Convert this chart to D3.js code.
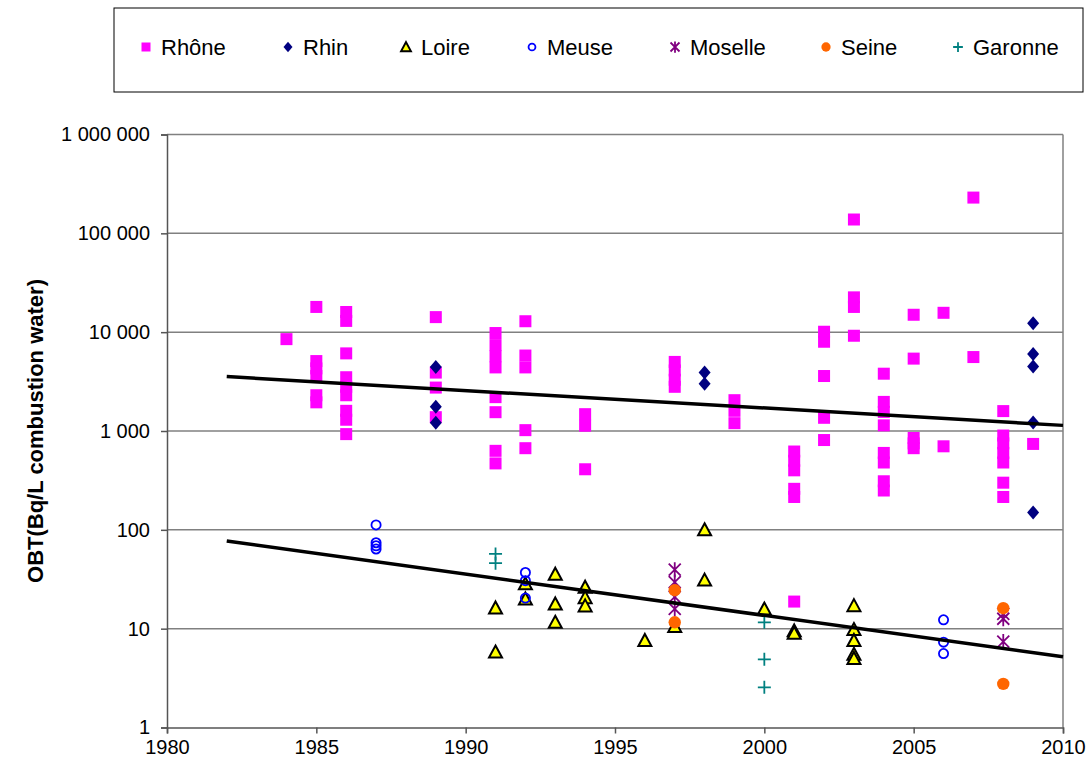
<!DOCTYPE html>
<html>
<head>
<meta charset="utf-8">
<script src="https://cdn.jsdelivr.net/npm/d3@7"></script>
<style>
  body { margin: 0; background: #fff; }
  svg { display: block; }
</style>
</head>
<body>
<div id="chart"></div>
<script>
// Data: [year, OBT in Bq/L combustion water]
const rhone = [
  [1984, 8500],
  [1985, 18000], [1985, 5100], [1985, 4300], [1985, 3600], [1985, 2300], [1985, 1950],
  [1986, 16000], [1986, 13000], [1986, 6100], [1986, 3500], [1986, 2800], [1986, 2300], [1986, 1600], [1986, 1300], [1986, 930],
  [1989, 14200], [1989, 3900], [1989, 2750], [1989, 1380],
  [1991, 9800], [1991, 7400], [1991, 5700], [1991, 4400], [1991, 2200], [1991, 1550], [1991, 630], [1991, 470],
  [1992, 12900], [1992, 5800], [1992, 4400], [1992, 1020], [1992, 670],
  [1994, 1480], [1994, 1130], [1994, 410],
  [1997, 5000], [1997, 4100], [1997, 3300], [1997, 2800],
  [1999, 2050], [1999, 1600], [1999, 1200],
  [2001, 620], [2001, 500], [2001, 400], [2001, 260], [2001, 215], [2001, 18.8],
  [2002, 10100], [2002, 8000], [2002, 3600], [2002, 1360], [2002, 810],
  [2003, 138000], [2003, 22500], [2003, 18000], [2003, 9200],
  [2004, 3800], [2004, 1970], [2004, 1560], [2004, 1140], [2004, 600], [2004, 480], [2004, 310], [2004, 250],
  [2005, 15000], [2005, 5400], [2005, 850], [2005, 750], [2005, 670],
  [2006, 15700], [2006, 700],
  [2007, 230000], [2007, 5600],
  [2008, 1590], [2008, 900], [2008, 750], [2008, 600], [2008, 480], [2008, 300], [2008, 215],
  [2009, 740]
];
const rhin = [
  [1989, 4450], [1989, 1760], [1989, 1210],
  [1998, 3900], [1998, 3000],
  [2009, 12300], [2009, 6000], [2009, 4500], [2009, 1220], [2009, 150]
];
const loire = [
  [1991, 16.2], [1991, 5.8],
  [1992, 28.4], [1992, 20],
  [1993, 35.6], [1993, 17.8], [1993, 11.6],
  [1994, 26.3], [1994, 20.6], [1994, 17],
  [1996, 7.6],
  [1997, 10.5],
  [1998, 100], [1998, 31],
  [2000, 15.8],
  [2001, 9.5], [2001, 9.0],
  [2003, 17.1], [2003, 9.8], [2003, 7.6], [2003, 5.5], [2003, 5.0]
];
const meuse = [
  [1987, 112], [1987, 74], [1987, 69], [1987, 64],
  [1992, 37], [1992, 30.6], [1992, 20.4],
  [2006, 12.3], [2006, 7.3], [2006, 5.6]
];
const moselle = [
  [1997, 39.5], [1997, 29.6], [1997, 21], [1997, 15.9],
  [2008, 14.1], [2008, 12.6], [2008, 7.4]
];
const seine = [
  [1997, 24.5], [1997, 11.6],
  [2008, 16.1], [2008, 2.76]
];
const garonne = [
  [1991, 57], [1991, 46],
  [2000, 11.6], [2000, 4.9], [2000, 2.55]
];
// exponential trend lines (straight on the log axis), endpoints
const trendRhone = [[1982, 3550], [2010, 1140]];
const trendOthers = [[1982, 77], [2010, 5.2]];

const xTicks = [1980, 1985, 1990, 1995, 2000, 2005, 2010];
const yTicks = [1, 10, 100, 1000, 10000, 100000, 1000000];
const yTickLabels = ['1', '10', '100', '1 000', '10 000', '100 000', '1 000 000'];

const seriesNames = ['Rhône', 'Rhin', 'Loire', 'Meuse', 'Moselle', 'Seine', 'Garonne'];

// Marker painters
const markers = {
  'Rhône': { data: rhone, draw: (g, s) => g.append('rect').attr('x', -6 * s).attr('y', -6 * s).attr('width', 12 * s).attr('height', 12 * s).attr('fill', '#FF00FF') },
  'Rhin': { data: rhin, draw: (g, s) => g.append('path').attr('d', `M0,${-7 * s}L${6 * s},0L0,${7 * s}L${-6 * s},0Z`).attr('fill', '#000080') },
  'Loire': { data: loire, draw: (g, s) => g.append('path').attr('d', `M0,${-6.5 * s}L${6.5 * s},${5.5 * s}L${-6.5 * s},${5.5 * s}Z`).attr('fill', '#FFFF00').attr('stroke', '#000').attr('stroke-width', 2).attr('stroke-linejoin', 'miter') },
  'Meuse': { data: meuse, draw: (g, s) => g.append('circle').attr('r', 4.6 * s).attr('fill', 'none').attr('stroke', '#0000FF').attr('stroke-width', 1.8) },
  'Moselle': { data: moselle, draw: (g, s) => g.append('path').attr('d', `M${-6 * s},${-6 * s}L${6 * s},${6 * s}M${6 * s},${-6 * s}L${-6 * s},${6 * s}M0,${-7.5 * s}L0,${7.5 * s}`).attr('stroke', '#800080').attr('stroke-width', 1.8).attr('fill', 'none') },
  'Seine': { data: seine, draw: (g, s) => g.append('circle').attr('r', 6.2 * s).attr('fill', '#FF6600') },
  'Garonne': { data: garonne, draw: (g, s) => g.append('path').attr('d', `M${-6.5 * s},0L${6.5 * s},0M0,${-6.5 * s}L0,${6.5 * s}`).attr('stroke', '#008080').attr('stroke-width', 1.8).attr('fill', 'none') }
};

const width = 1091, height = 769;
const plot = { left: 167, right: 1063, top: 134.5, bottom: 727.5 };
const font = 'Liberation Sans, Arial, sans-serif';

const svg = d3.select('#chart').append('svg')
  .attr('width', width)
  .attr('height', height)
  .attr('font-family', font);

const x = d3.scaleLinear().domain([1980, 2010]).range([plot.left, plot.right]);
const y = d3.scaleLog().domain([1, 1000000]).range([plot.bottom, plot.top]);

// Gridlines
svg.append('g')
  .selectAll('line')
  .data(yTicks.slice(1))
  .join('line')
  .attr('x1', plot.left).attr('x2', plot.right)
  .attr('y1', d => y(d)).attr('y2', d => y(d))
  .attr('stroke', '#808080').attr('stroke-width', 1.5);

// Right border
svg.append('line')
  .attr('x1', plot.right).attr('x2', plot.right)
  .attr('y1', plot.top).attr('y2', plot.bottom)
  .attr('stroke', '#808080').attr('stroke-width', 1.5);

// Y axis
const yAxis = d3.axisLeft(y)
  .tickValues(yTicks)
  .tickFormat((d, i) => yTickLabels[i])
  .tickSize(6)
  .tickPadding(11);
const yAxisG = svg.append('g')
  .attr('transform', `translate(${plot.left},0)`)
  .call(yAxis);
yAxisG.select('.domain').attr('stroke', '#555').attr('stroke-width', 1.5);
yAxisG.selectAll('.tick line').attr('stroke', '#555').attr('stroke-width', 1.5);
yAxisG.selectAll('text').attr('font-size', 20).attr('font-family', font).attr('fill', '#000');

// X axis
const xAxis = d3.axisBottom(x)
  .tickValues(xTicks)
  .tickFormat(d3.format('d'))
  .tickSize(6)
  .tickPadding(6);
const xAxisG = svg.append('g')
  .attr('transform', `translate(0,${plot.bottom})`)
  .call(xAxis);
xAxisG.select('.domain').attr('stroke', '#555').attr('stroke-width', 1.5);
xAxisG.selectAll('.tick line').attr('stroke', '#555').attr('stroke-width', 1.5);
xAxisG.selectAll('text').attr('font-size', 20).attr('font-family', font).attr('fill', '#000');

// Y axis title
svg.append('text')
  .attr('transform', `translate(43,${(plot.top + plot.bottom) / 2}) rotate(-90)`)
  .attr('text-anchor', 'middle')
  .attr('font-size', 22)
  .attr('font-weight', 'bold')
  .text('OBT(Bq/L combustion water)');

// Markers, in Excel series order
seriesNames.forEach(name => {
  const m = markers[name];
  const g = svg.append('g').attr('class', 'series');
  m.data.forEach(d => {
    const mg = g.append('g').attr('transform', `translate(${x(d[0])},${y(d[1])})`);
    m.draw(mg, 1);
  });
});

// Trend lines
const line = d3.line().x(d => x(d[0])).y(d => y(d[1]));
[trendRhone, trendOthers].forEach(t => {
  svg.append('path')
    .attr('d', line(t))
    .attr('fill', 'none')
    .attr('stroke', '#000')
    .attr('stroke-width', 3.5);
});

// Legend
const legend = svg.append('g');
legend.append('rect')
  .attr('x', 114).attr('y', 8)
  .attr('width', 969).attr('height', 84)
  .attr('fill', '#fff')
  .attr('stroke', '#000').attr('stroke-width', 1);

const legendX = [146, 288, 406, 532, 675, 826, 958];
seriesNames.forEach((name, i) => {
  const item = legend.append('g').attr('transform', `translate(${legendX[i]},47)`);
  markers[name].draw(item.append('g'), 0.75);
  item.append('text')
    .attr('x', 15)
    .attr('y', 8)
    .attr('font-size', 22)
    .text(name);
});
</script>
</body>
</html>
